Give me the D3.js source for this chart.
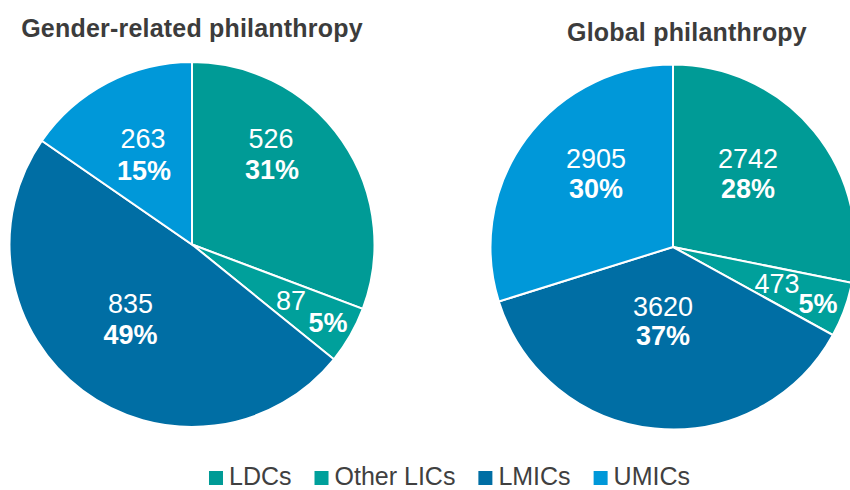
<!DOCTYPE html>
<html>
<head>
<meta charset="utf-8">
<script src="https://cdn.jsdelivr.net/npm/d3@7"></script>
<style>
  body { margin: 0; background: #fff; }
  svg { display: block; font-family: "Liberation Sans", Arial, Helvetica, sans-serif; }
</style>
</head>
<body>
<div id="chart"></div>
<script>
// categories and values
var categories = ["LDCs", "Other LICs", "LMICs", "UMICs"];
var colors = ["#009b96", "#00a09b", "#006ea4", "#0098d9"];
var pieTitles = ["Gender-related philanthropy", "Global philanthropy"];
var genderValues = [526, 87, 835, 263];
var genderPercents = ["31%", "5%", "49%", "15%"];
var globalValues = [2742, 473, 3620, 2905];
var globalPercents = ["28%", "5%", "37%", "30%"];

// #####################################################
// layout
//
var width = 850, height = 490;
var radius = 182.5;
var pies = [
  { title: pieTitles[0], values: genderValues, percents: genderPercents,
    cx: 192, cy: 244.5, titleX: 192, titleY: 37,
    // label offsets from pie centre: [numDx, numDy, pctDx, pctDy]
    labels: [[79, -96.5, 80, -65.5], [99, 65.5, 136, 87.5], [-61.5, 68.5, -61.5, 99.5], [-49, -96.5, -48, -64.5]] },
  { title: pieTitles[1], values: globalValues, percents: globalPercents,
    cx: 673, cy: 247, titleX: 687, titleY: 41,
    labels: [[75, -79, 75, -49], [104, 46, 145, 66], [-10, 69, -10, 98], [-77, -79, -77, -49]] }
];

var svg = d3.select("#chart").append("svg")
    .attr("width", width)
    .attr("height", height);

var pie = d3.pie().sort(null).value(function(d) { return d; });
var arc = d3.arc().innerRadius(0).outerRadius(radius);

pies.forEach(function(p) {
  var g = svg.append("g")
      .attr("transform", "translate(" + p.cx + "," + p.cy + ")");

  g.selectAll("path.slice")
    .data(pie(p.values))
    .enter().append("path")
      .attr("class", "slice")
      .attr("d", arc)
      .attr("fill", function(d, i) { return colors[i]; })
      .attr("stroke", "#ffffff")
      .attr("stroke-width", 2);

  var lab = g.selectAll("g.lab")
    .data(p.values)
    .enter().append("g")
      .attr("class", "lab");

  lab.append("text")
      .attr("x", function(d, i) { return p.labels[i][0]; })
      .attr("y", function(d, i) { return p.labels[i][1]; })
      .attr("text-anchor", "middle")
      .style("font-size", "27px")
      .style("fill", "#ffffff")
      .text(function(d) { return d; });

  lab.append("text")
      .attr("x", function(d, i) { return p.labels[i][2]; })
      .attr("y", function(d, i) { return p.labels[i][3]; })
      .attr("text-anchor", "middle")
      .style("font-size", "27px")
      .style("font-weight", "bold")
      .style("fill", "#ffffff")
      .text(function(d, i) { return p.percents[i]; });
});

// titles
svg.selectAll("text.title")
  .data(pies)
  .enter().append("text")
    .attr("class", "title")
    .attr("x", function(d) { return d.titleX; })
    .attr("y", function(d) { return d.titleY; })
    .attr("text-anchor", "middle")
    .style("font-size", "25px")
    .style("font-weight", "bold")
    .style("letter-spacing", "0.2px")
    .style("fill", "#3c3c3c")
    .text(function(d) { return d.title; });

// #####################################################
// Legend
//
var legend = svg.append("g");
var sq = 14, gapSq = 6, gapItem = 23, legendY = 485;
var items = legend.selectAll("g")
  .data(categories)
  .enter().append("g");

items.append("rect")
    .attr("width", sq)
    .attr("height", sq)
    .attr("y", legendY - sq)
    .attr("fill", function(d, i) { return colors[i]; });

items.append("text")
    .attr("x", sq + gapSq)
    .attr("y", legendY)
    .style("font-size", "25px")
    .style("fill", "#404040")
    .text(function(d) { return d; });

var xPos = 0;
items.each(function() {
  var w = sq + gapSq + d3.select(this).select("text").node().getComputedTextLength();
  d3.select(this).attr("transform", "translate(" + xPos + ",0)");
  xPos += w + gapItem;
});
var legendW = xPos - gapItem;
legend.attr("transform", "translate(" + (449.5 - legendW / 2) + ",0)");
</script>
</body>
</html>
